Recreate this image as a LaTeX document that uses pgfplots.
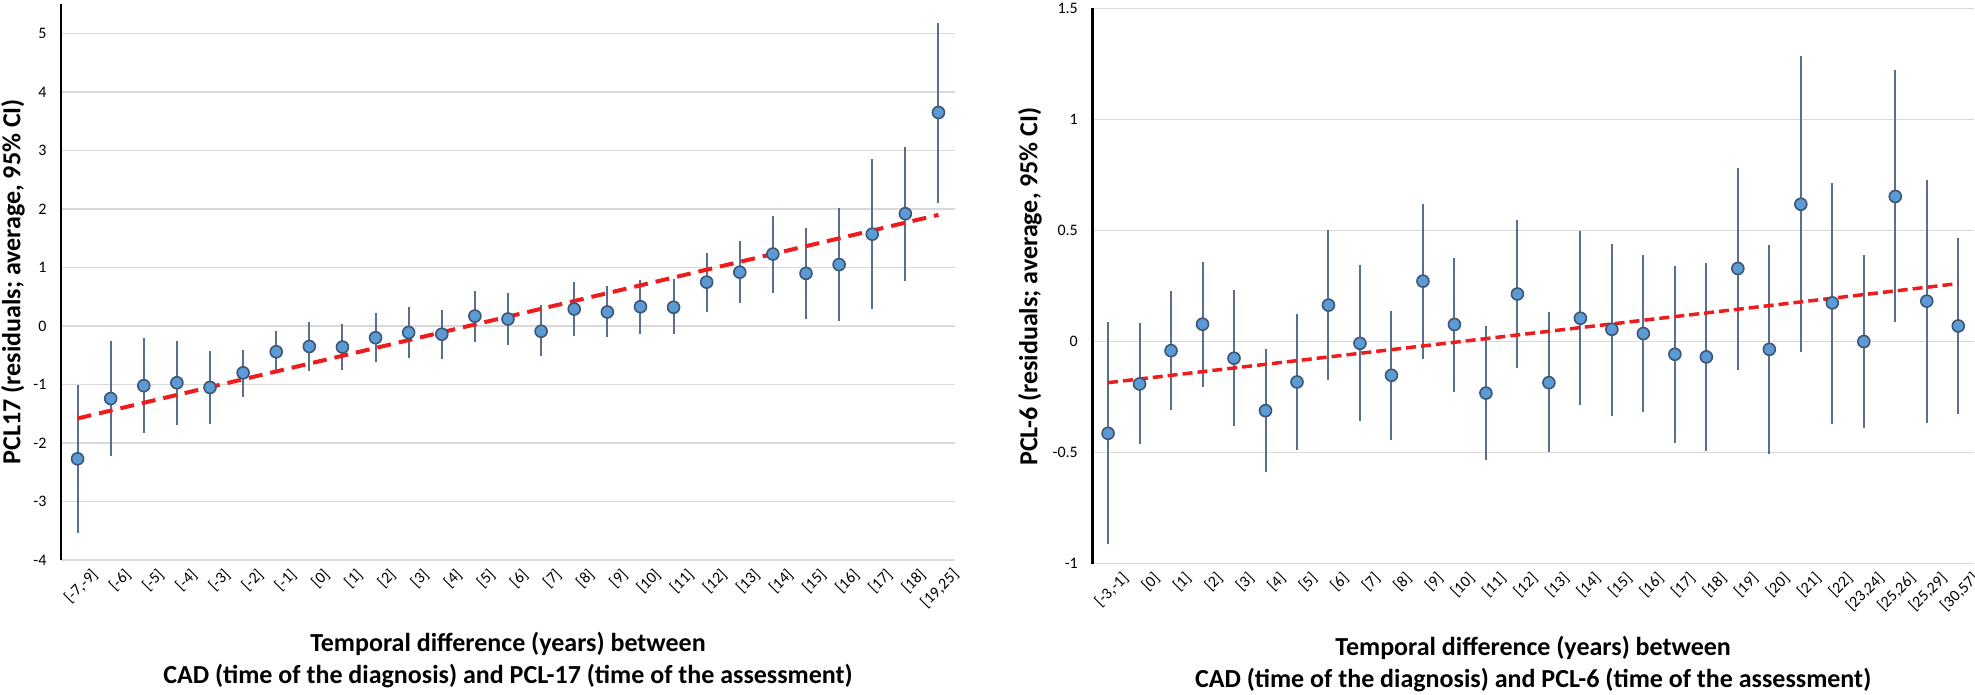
\documentclass[border=0pt]{standalone}
\usepackage{fontspec}
\setmainfont{Carlito}
\usepackage{pgfplots}
\pgfplotsset{compat=1.18}
\usepackage{pgfplotstable}
\definecolor{gridc}{HTML}{D9D9D9}
\definecolor{errc}{HTML}{5A6E8E}
\definecolor{mfill}{HTML}{5B9BD5}
\definecolor{mdraw}{HTML}{3E5573}
\definecolor{trendc}{HTML}{EE1C1C}

\pgfplotstableread{
x y lo hi
0 -2.27 -3.54 -1.00
1 -1.24 -2.22 -0.26
2 -1.02 -1.83 -0.21
3 -0.97 -1.69 -0.26
4 -1.05 -1.67 -0.43
5 -0.80 -1.21 -0.41
6 -0.44 -0.75 -0.08
7 -0.35 -0.77 0.07
8 -0.36 -0.76 0.04
9 -0.20 -0.62 0.22
10 -0.11 -0.54 0.32
11 -0.14 -0.56 0.28
12 0.17 -0.28 0.60
13 0.12 -0.32 0.57
14 -0.09 -0.52 0.36
15 0.29 -0.17 0.76
16 0.24 -0.19 0.68
17 0.33 -0.14 0.79
18 0.32 -0.14 0.80
19 0.75 0.24 1.25
20 0.92 0.40 1.45
21 1.23 0.56 1.88
22 0.90 0.12 1.68
23 1.05 0.08 2.01
24 1.57 0.29 2.85
25 1.92 0.77 3.06
26 3.65 2.11 5.18
}\lefttab

\pgfplotstableread{
x y lo hi
0 -0.413 -0.912 0.086
1 -0.191 -0.463 0.082
2 -0.041 -0.309 0.227
3 0.078 -0.206 0.360
4 -0.075 -0.380 0.231
5 -0.311 -0.589 -0.032
6 -0.182 -0.490 0.126
7 0.164 -0.174 0.501
8 -0.008 -0.359 0.344
9 -0.152 -0.445 0.138
10 0.272 -0.077 0.618
11 0.077 -0.227 0.378
12 -0.232 -0.535 0.070
13 0.214 -0.119 0.546
14 -0.185 -0.499 0.131
15 0.105 -0.286 0.497
16 0.055 -0.335 0.441
17 0.036 -0.318 0.389
18 -0.057 -0.455 0.341
19 -0.069 -0.494 0.354
20 0.329 -0.126 0.782
21 -0.035 -0.505 0.434
22 0.618 -0.047 1.285
23 0.174 -0.369 0.714
24 0.000 -0.389 0.389
25 0.653 0.086 1.221
26 0.182 -0.365 0.727
27 0.070 -0.324 0.464
}\righttab

\tikzset{
  xlab/.style={font=\fontsize{26}{32}\selectfont\bfseries, align=center,
    anchor=north, inner sep=0pt, yshift=-72pt},
}
\pgfplotsset{
  resid/.style={
    scale only axis,
    axis line style={draw=none},
    major tick length=0pt,
    ymajorgrids,
    grid style={color=gridc, line width=1.3pt},
    tick label style={font=\fontsize{16}{19}\selectfont},
    yticklabel style={xshift=-11pt},
    xticklabel style={rotate=45, anchor=north east, inner sep=0pt, xshift=4pt, yshift=-14pt},
    label style={font=\fontsize{26}{32}\selectfont\bfseries},
    clip=false,
  },
  ebars/.style={forget plot, only marks, mark=none,
    error bars/.cd, y dir=both, y explicit, error mark=none,
    error bar style={draw=errc, line width=2pt}},
  dots/.style={only marks, mark=*, mark size=6pt,
    mark options={fill=mfill, draw=mdraw, line width=1.6pt}},
}

\begin{document}
\begin{tikzpicture}
\useasboundingbox (0pt,-694pt) rectangle (1975pt,0pt);

\begin{axis}[resid,
  at={(61pt,-560pt)}, anchor=south west,
  width=894pt, height=555.75pt,
  xmin=-0.5, xmax=26.5, ymin=-4, ymax=5.5,
  ytick={-4,-3,-2,-1,0,1,2,3,4,5},
  yticklabels={-4,-3,-2,-1,0,1,2,3,4,5},
  xtick={0,...,26},
  xticklabels={{[-7,-9]},{[-6]},{[-5]},{[-4]},{[-3]},{[-2]},{[-1]},{[0]},{[1]},{[2]},{[3]},{[4]},{[5]},{[6]},{[7]},{[8]},{[9]},{[10]},{[11]},{[12]},{[13]},{[14]},{[15]},{[16]},{[17]},{[18]},{[19,25]}},
  ylabel={PCL17 (residuals; average, 95\% CI)},
  ylabel style={at={(axis description cs:-0.0537,0.501)}, anchor=center},
]
\draw[black, line width=2.7pt] (rel axis cs:0,0) -- (rel axis cs:0,1);
\addplot[ebars] table[x=x, y=y, y error plus expr=\thisrow{hi}-\thisrow{y}, y error minus expr=\thisrow{y}-\thisrow{lo}] {\lefttab};
\addplot[trendc, line width=4pt, dash pattern=on 14pt off 8pt] coordinates {(0,-1.58) (26,1.90)};
\addplot[dots] table[x=x, y=y] {\lefttab};
\node[xlab] at (rel axis cs:0.5,0) {Temporal difference (years) between\\CAD (time of the diagnosis) and PCL-17 (time of the assessment)};
\end{axis}

\begin{axis}[resid,
  at={(1092.3pt,-563.7pt)}, anchor=south west,
  width=881.7pt, height=555.4pt,
  xmin=-0.5, xmax=27.5, ymin=-1, ymax=1.5,
  ytick={-1,-0.5,0,0.5,1,1.5},
  yticklabels={-1,-0.5,0,0.5,1,1.5},
  xtick={0,...,27},
  xticklabels={{[-3,-1]},{[0]},{[1]},{[2]},{[3]},{[4]},{[5]},{[6]},{[7]},{[8]},{[9]},{[10]},{[11]},{[12]},{[13]},{[14]},{[15]},{[16]},{[17]},{[18]},{[19]},{[20]},{[21]},{[22]},{[23,24]},{[25,26]},{[25,29]},{[30,57]}},
  ylabel={PCL-6 (residuals; average, 95\% CI)},
  ylabel style={at={(axis description cs:-0.0707,0.499)}, anchor=center},
]
\draw[black, line width=2.7pt] (rel axis cs:0,0) -- (rel axis cs:0,1);
\addplot[ebars] table[x=x, y=y, y error plus expr=\thisrow{hi}-\thisrow{y}, y error minus expr=\thisrow{y}-\thisrow{lo}] {\righttab};
\addplot[trendc, line width=3.5pt, dash pattern=on 10pt off 5pt] coordinates {(0,-0.185) (27,0.261)};
\addplot[dots] table[x=x, y=y] {\righttab};
\node[xlab] at (rel axis cs:0.5,0) {Temporal difference (years) between\\CAD (time of the diagnosis) and PCL-6 (time of the assessment)};
\end{axis}
\end{tikzpicture}
\end{document}
